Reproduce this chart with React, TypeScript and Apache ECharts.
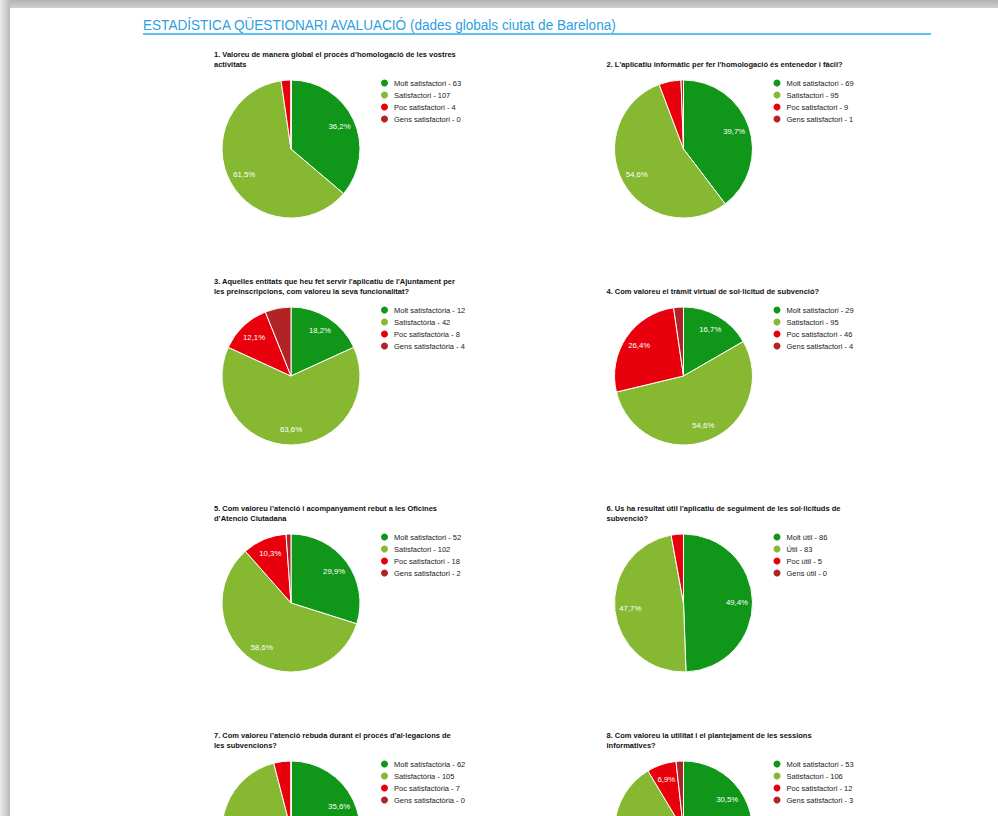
import React, { useEffect, useRef } from "react";
import * as echarts from "echarts";

const pageTitle = "ESTADÍSTICA QÜESTIONARI AVALUACIÓ (dades globals ciutat de Barelona)";

const catSatisfactori = ["Molt satisfactori", "Satisfactori", "Poc satisfactori", "Gens satisfactori"];
const catSatisfactoria = ["Molt satisfactòria", "Satisfactòria", "Poc satisfactòria", "Gens satisfactòria"];
const catUtil = ["Molt útil", "Útil", "Poc útil", "Gens útil"];

const values1 = [63, 107, 4, 0];
const values2 = [69, 95, 9, 1];
const values3 = [12, 42, 8, 4];
const values4 = [29, 95, 46, 4];
const values5 = [52, 102, 18, 2];
const values6 = [86, 83, 5, 0];
const values7 = [62, 105, 7, 0];
const values8 = [53, 106, 12, 3];

const titles = [
  "1. Valoreu de manera global el procés d’homologació de les vostres\nactivitats",
  "2. L'aplicatiu informàtic per fer l'homologació és entenedor i fàcil?",
  "3. Aquelles entitats que heu fet servir l'aplicatiu de l'Ajuntament per\nles preinscripcions, com valoreu la seva funcionalitat?",
  "4. Com valoreu el tràmit virtual de sol·licitud de subvenció?",
  "5. Com valoreu l’atenció i acompanyament rebut a les Oficines\nd’Atenció Ciutadana",
  "6. Us ha resultat útil l'aplicatiu de seguiment de les sol·licituds de\nsubvenció?",
  "7. Com valoreu l’atenció rebuda durant el procés d’al·legacions de\nles subvencions?",
  "8. Com valoreu la utilitat i el plantejament de les sessions\ninformatives?",
];

const chartCategories = [
  catSatisfactori, catSatisfactori, catSatisfactoria, catSatisfactori,
  catSatisfactori, catUtil, catSatisfactoria, catSatisfactori,
];
const chartValues = [values1, values2, values3, values4, values5, values6, values7, values8];

const COLORS = ["#109618", "#86b831", "#e8000c", "#b22326"];
const FONT = '"Liberation Sans", Arial, sans-serif';

export default function App() {
  const ref = useRef<HTMLDivElement>(null);

  useEffect(() => {
    if (!ref.current) return;
    const chart = echarts.init(ref.current, null, { renderer: "svg" });

    const W = 998;
    const H = 816;
    const colX = [291, 683.5];
    const rowY = [149, 376, 603, 830];
    const R = 69;
    const R0 = 32;

    const series: any[] = [];
    const overlays: any[] = [];
    const legends: any[] = [];
    const graphics: any[] = [
      {
        type: "rect",
        shape: { x: 0, y: 0, width: 10, height: H },
        style: {
          fill: new echarts.graphic.LinearGradient(0, 0, 1, 0, [
            { offset: 0, color: "#ececec" },
            { offset: 1, color: "#b9b9b9" },
          ]),
        },
        silent: true,
      },
      {
        type: "rect",
        shape: { x: 10, y: 0, width: W - 10, height: 8 },
        style: {
          fill: new echarts.graphic.LinearGradient(0, 0, 0, 1, [
            { offset: 0, color: "#b2b2b2" },
            { offset: 1, color: "#cfcfcf" },
          ]),
        },
        silent: true,
      },
      {
        type: "text",
        x: 143,
        y: 25,
        scaleX: 0.905,
        style: {
          text: pageTitle,
          fontSize: 15,
          fontFamily: FONT,
          fill: "#2c9fe0",
          align: "left",
          verticalAlign: "middle",
        },
        silent: true,
      },
      {
        type: "line",
        shape: { x1: 143, y1: 34, x2: 931, y2: 34 },
        style: { stroke: "#5cc2f0", lineWidth: 2 },
        silent: true,
      },
    ];

    chartValues.forEach((vals, i) => {
      const cx = colX[i % 2];
      const cy = rowY[Math.floor(i / 2)];
      const cats = chartCategories[i];
      const total = vals.reduce((a, b) => a + b, 0);
      const names = cats.map((c, k) => `${c} - ${vals[k]}`);
      const data = vals.map((v, k) => ({
        name: names[k],
        value: v,
        itemStyle: { color: COLORS[k] },
      }));

      series.push({
        type: "pie",
        center: [cx, cy],
        radius: R,
        startAngle: 90,
        clockwise: true,
        data,
        label: { show: false },
        labelLine: { show: false },
        itemStyle: { borderColor: "#ffffff", borderWidth: 1 },
        emphasis: { disabled: true },
        silent: true,
      });

      overlays.push({
        type: "pie",
        center: [cx, cy],
        radius: [R0, R],
        startAngle: 90,
        clockwise: true,
        data: vals.map((v, k) => ({ name: names[k], value: v })),
        itemStyle: { color: "rgba(0,0,0,0)", borderWidth: 0 },
        label: {
          show: true,
          position: "inside",
          color: "#ffffff",
          fontSize: 7.8,
          fontFamily: FONT,
          formatter: (p: any) => {
            const pct = (p.value / total) * 100;
            if (pct < 6.5) return "";
            let before = 0;
            for (let k = 0; k < p.dataIndex; k++) before += vals[k];
            const mid = ((before + p.value / 2) / total) * 2 * Math.PI;
            const ly = cy - Math.cos(mid) * ((R + R0) / 2);
            if (ly > H - 6) return "";
            return pct.toFixed(1).replace(".", ",") + "%";
          },
        },
        labelLine: { show: false },
        emphasis: { disabled: true },
        silent: true,
      });

      legends.push({
        orient: "vertical",
        left: cx + 88,
        top: cy - 71.5,
        padding: 0,
        itemGap: 1,
        itemWidth: 9,
        itemHeight: 9,
        icon: "circle",
        selectedMode: false,
        data: names,
        textStyle: { fontSize: 7.5, color: "#222", fontFamily: FONT, lineHeight: 9 },
      });

      graphics.push({
        type: "text",
        x: cx - 77,
        y: cy - 80,
        style: {
          text: titles[i],
          fontSize: 7.5,
          fontWeight: "bold",
          fontFamily: FONT,
          fill: "#111",
          align: "left",
          verticalAlign: "bottom",
          lineHeight: 10,
        },
        silent: true,
      });
    });

    chart.setOption({
      animation: false,
      backgroundColor: "#ffffff",
      legend: legends,
      series: [...series, ...overlays],
      graphic: graphics,
    });

    return () => chart.dispose();
  }, []);

  return (
    <div
      ref={ref}
      style={{ position: "absolute", left: 0, top: 0, width: 998, height: 816 }}
    />
  );
}
